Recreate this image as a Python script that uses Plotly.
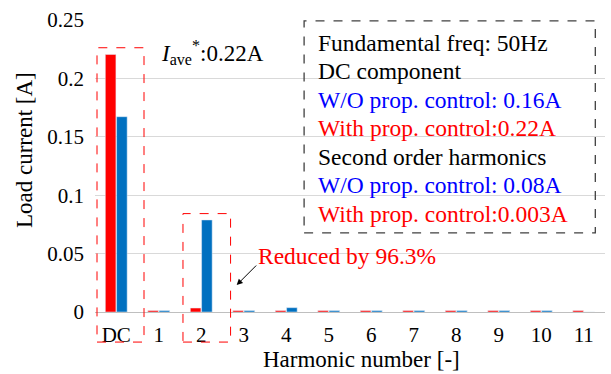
import plotly.graph_objects as go

categories = ["DC", "1", "2", "3", "4", "5", "6", "7", "8", "9", "10", "11"]
with_control = [0.2205, 0.0012, 0.0034, 0.0012, 0.0012, 0.0012, 0.0012, 0.0012, 0.0012, 0.0012, 0.0012, 0.0012]
without_control = [0.1672, 0.0012, 0.0788, 0.0012, 0.0037, 0.0012, 0.0012, 0.0012, 0.0012, 0.0012, 0.0012, 0.0]
y_ticks = [0, 0.05, 0.1, 0.15, 0.2, 0.25]
y_ticklabels = ["0", "0.05", "0.1", "0.15", "0.2", "0.25"]

info_lines = [
    ("Fundamental freq: 50Hz", "#000000"),
    ("DC component", "#000000"),
    ("W/O prop. control: 0.16A", "#0000FF"),
    ("With prop. control:0.22A", "#FF0000"),
    ("Second order harmonics", "#000000"),
    ("W/O prop. control: 0.08A", "#0000FF"),
    ("With prop. control:0.003A", "#FF0000"),
]

FONT = "Liberation Serif"
RED = "#FF0000"
BLUE = "#0070C0"

x_idx = list(range(len(categories)))

fig = go.Figure()
fig.add_trace(go.Bar(x=x_idx, y=with_control, marker_color=RED, name="With prop. control"))
fig.add_trace(go.Bar(x=x_idx, y=without_control, marker_color=BLUE, name="W/O prop. control"))

fig.update_layout(
    width=611, height=374,
    margin=dict(l=95, r=6, t=20, b=62),
    plot_bgcolor="white", paper_bgcolor="white",
    barmode="group", bargap=0.47, bargroupgap=0.06,
    showlegend=False,
    font=dict(family=FONT, size=20, color="black"),
)
fig.update_xaxes(
    tickmode="array", tickvals=x_idx, ticktext=categories,
    range=[-0.5, len(categories) - 0.5],
    showgrid=False, zeroline=False, showline=False,
    tickfont=dict(family=FONT, size=21, color="black"),
    ticklabelstandoff=8,
)
fig.update_yaxes(
    range=[0, 0.25], tickmode="array", tickvals=y_ticks, ticktext=y_ticklabels,
    showgrid=True, gridcolor="#D9D9D9", gridwidth=1,
    zeroline=True, zerolinecolor="#BFBFBF", zerolinewidth=1,
    showline=False,
    tickfont=dict(family=FONT, size=21, color="black"),
    ticklabelstandoff=10,
)

# axis titles (placed as in the reference, slightly off-centre)
fig.add_annotation(text="Load current [A]", xref="paper", yref="paper", x=-0.137, y=0.555,
                   xanchor="center", yanchor="middle", textangle=-90, showarrow=False,
                   font=dict(family=FONT, size=23, color="black"))
fig.add_annotation(text="Harmonic number [-]", xref="paper", yref="paper", x=0.522, y=-0.164,
                   xanchor="center", yanchor="middle", showarrow=False,
                   font=dict(family=FONT, size=23, color="black"))

# dashed boxes around DC and 2nd harmonic
fig.add_shape(type="rect", xref="x", yref="paper", x0=-0.453, x1=0.653, y0=-0.103, y1=0.905,
              line=dict(color=RED, width=1, dash="dash"), layer="above")
fig.add_shape(type="rect", xref="x", yref="paper", x0=1.57, x1=2.69, y0=-0.103, y1=0.337,
              line=dict(color=RED, width=1, dash="dash"), layer="above")

# info box
fig.add_shape(type="rect", xref="paper", yref="paper", x0=0.410, x1=0.981, y0=0.271, y1=0.997,
              line=dict(color="#404040", width=1.3, dash="dash"), layer="above")
line_y = [0.921, 0.825, 0.726, 0.630, 0.531, 0.435, 0.336]
for (txt, col), yy in zip(info_lines, line_y):
    fig.add_annotation(text=txt, xref="paper", yref="paper", x=0.433, y=yy,
                       xanchor="left", yanchor="middle", showarrow=False,
                       font=dict(family=FONT, size=23.5, color=col))

fig.add_annotation(text="<i>I</i><sub>ave</sub><sup>*</sup>:0.22A", xref="paper", yref="paper",
                   x=0.125, y=0.89, xanchor="left", yanchor="middle", showarrow=False,
                   font=dict(family=FONT, size=23, color="black"))

fig.add_annotation(text="Reduced by 96.3%", xref="paper", yref="paper",
                   x=0.316, y=0.192, xanchor="left", yanchor="middle", showarrow=False,
                   font=dict(family=FONT, size=23.5, color=RED))
fig.add_annotation(text="", x=2.834, y=0.0231, xref="x", yref="y",
                   ax=21, ay=-21, showarrow=True, arrowhead=2, arrowsize=1.2,
                   arrowwidth=1, arrowcolor="black")

fig.write_html("out.html")
